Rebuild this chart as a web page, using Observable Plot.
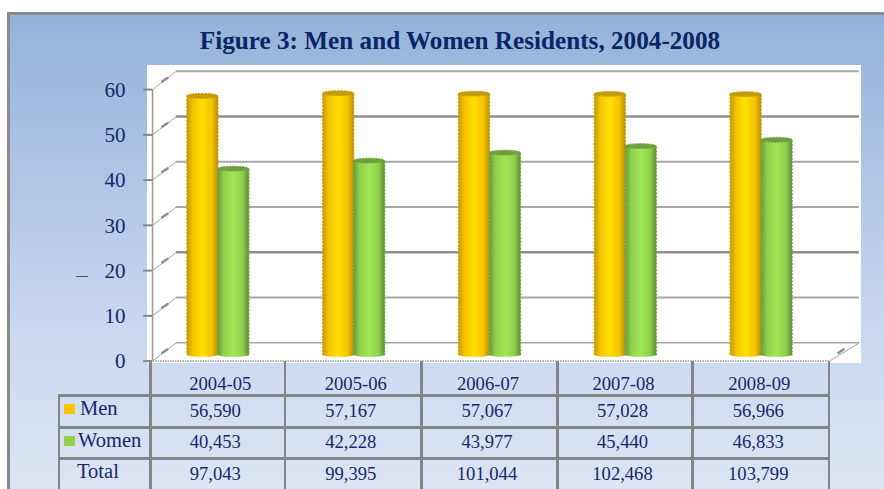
<!DOCTYPE html>
<html><head><meta charset="utf-8">
<script src="https://cdn.jsdelivr.net/npm/d3@7"></script>
<script src="https://cdn.jsdelivr.net/npm/@observablehq/plot@0.6"></script>
<style>
html,body{margin:0;padding:0;width:884px;height:489px;overflow:hidden;background:#fff;font-family:"Liberation Serif",serif;color:#14296b}
#frame{position:absolute;left:7px;top:12px;width:890px;height:500px;border:3px solid #8a8a8a;background:linear-gradient(#94b2d8 0%,#c8d7f0 62%,#e0e7f4 100%)}
#title{position:absolute;left:0;width:920px;top:27px;text-align:center;font:bold 25.2px "Liberation Serif",serif;color:#0a2468;white-space:nowrap}
#white{position:absolute;left:147px;top:65px;width:714px;height:298px;background:#fff}
#chart{position:absolute;left:0;top:0}
#tick{position:absolute;left:76px;top:276px;width:12px;height:1px;background:#456}
.c{position:absolute;text-align:center;font-size:18.6px;line-height:24px;color:#14296b;white-space:nowrap}
.l{font-size:20.5px}
.h{position:absolute;background:#858585}
.sw{position:absolute;width:11px;height:10px}
</style></head><body>
<div id="frame"></div><div id="white"></div><div id="title"></div><div id="tick"></div>
<div id="chart"></div><div id="table"></div>
<script>
const titleText = "Figure 3: Men and Women Residents, 2004-2008";
const years = ["2004-05","2005-06","2006-07","2007-08","2008-09"];
const men = [56590,57167,57067,57028,56966];
const women = [40453,42228,43977,45440,46833];
const total = [97043,99395,101044,102468,103799];
const gridValues = [0,10,20,30,40,50,60];
const strongGrid = [50,20];

document.getElementById("title").textContent = titleText;

const depthX = 0.19, depthY = 4.0;   // pseudo-3D wall depth in data units
const barW = 0.228;
const idx = years.map((_,i)=>i);
const thousand = v => v/1000;

const defs = `<svg width="0" height="0" style="position:absolute"><defs>
<linearGradient id="gm"><stop offset="0" stop-color="#c79a00"/><stop offset=".2" stop-color="#f5c400"/><stop offset=".5" stop-color="#ffdf00"/><stop offset=".8" stop-color="#f5c400"/><stop offset="1" stop-color="#b98f00"/></linearGradient>
<linearGradient id="gw"><stop offset="0" stop-color="#6b9a3c"/><stop offset=".2" stop-color="#8fd14e"/><stop offset=".5" stop-color="#a2e654"/><stop offset=".8" stop-color="#8fd14e"/><stop offset="1" stop-color="#5f8c34"/></linearGradient>
</defs></svg>`;
document.body.insertAdjacentHTML("afterbegin", defs);

const series = (vals, off, lift, fill, cap, edge) => [
  Plot.rectY(idx, {x1:i=>i+0.5+off, x2:i=>i+0.5+off+barW, y1:0.0, y2:i=>thousand(vals[i])+lift, fill:fill, stroke:edge, strokeWidth:1.3, strokeDasharray:"2,1.5"}),
  Plot.rectY(idx, {x1:i=>i+0.5+off, x2:i=>i+0.5+off+barW, y1:-0.5, y2:0.5, fill:fill, rx:15, ry:2}),
  Plot.rectY(idx, {x1:i=>i+0.5+off, x2:i=>i+0.5+off+barW, y1:i=>thousand(vals[i])+lift-0.5, y2:i=>thousand(vals[i])+lift+0.55, fill:cap, stroke:edge, strokeWidth:1, strokeDasharray:"2,1", rx:15, ry:2.5})
];

const chart = Plot.plot({
  width:884, height:489, style:{background:"transparent",overflow:"visible"},
  marginLeft:150, marginRight:55, marginTop:83, marginBottom:134.5,
  x:{domain:[0,5], axis:null},
  y:{domain:[0,60], axis:null},
  marks:[
    // back wall gridlines
    Plot.ruleY(gridValues.filter(v=>v>0), {x1:depthX, x2:5+depthX+0.03, y:v=>v+depthY-1.3, stroke:v=>strongGrid.includes(v)?"#8f8f8f":"#a8a8a8",
      strokeWidth:v=>strongGrid.includes(v)?2.4:2, strokeDasharray:v=>strongGrid.includes(v)?"26,1":"2,1"}),
    Plot.ruleY([0], {x1:depthX, x2:5+depthX+0.03, y:depthY-1.3, stroke:"#a8a8a8", strokeWidth:1.5}),
    // side wall diagonals
    Plot.link(gridValues, {x1:0.015, x2:depthX, y1:v=>v-1.35, y2:v=>v+depthY-1.3, stroke:"#a5a5a5", strokeWidth:1}),
    Plot.link(gridValues, {x1:0.08, x2:0.13, y1:v=>v-1.35+depthY*0.42, y2:v=>v-1.35+depthY*0.67, stroke:"#8d8d8d", strokeWidth:2.5}),
    Plot.link([0], {x1:5, x2:5+depthX+0.03, y1:-1.35, y2:depthY-1.3, stroke:"#a5a5a5", strokeWidth:1}),
    Plot.link([0], {x1:5.06, x2:5.11, y1:0.35, y2:1.4, stroke:"#8d8d8d", strokeWidth:2.5}),
    // floor and vertical axis
    Plot.ruleY([-1.35], {x1:0, x2:5, stroke:"#9a9a9a", strokeWidth:1.5, strokeDasharray:"1.5,1"}),
    Plot.ruleX([0.015], {y1:-1.35, y2:58.65, stroke:"#9a9a9a", strokeWidth:1.5}),
    Plot.ruleY(gridValues, {x1:-0.05, x2:0.015, y:v=>v-1.35, stroke:"#868686", strokeWidth:2}),
    Plot.text(gridValues, {x:-0.185, y:v=>v-1.35, dy:0.5, text:String, textAnchor:"end", fontSize:21, fontFamily:"Liberation Serif", fill:"#14296b"}),
    ...series(men, -barW, 0.55, "url(#gm)", "#c49c00", "#c49c00"),
    ...series(women, 0, 0.6, "url(#gw)", "#6f9f3e", "#6f9f3e")
  ]
});
document.getElementById("chart").append(chart);

// data table below the plot
const colX = [150,284.5,421,557,692,828.5];
const rowY = [361,395.5,427,458.5,489];
const t = document.getElementById("table");
const add = (cls, st, txt) => { const d=document.createElement("div"); d.className=cls; Object.assign(d.style, st); if(txt!=null) d.textContent=txt; t.append(d); };
const fmt = d3.format(",");
const rowShift = [[3,3,-1,-1,-1],[-2,-2,-2,-2,-2],[-2,-2,-2,-2,-2],[-2,-2,-2,-2,-2]];
[[years,null],[men,"Men"],[women,"Women"],[total,"Total"]].forEach(([vals,label],r)=>{
  vals.forEach((v,c)=>add("c",{left:(colX[c]+rowShift[r][c])+"px",width:(colX[c+1]-colX[c])+"px",top:(rowY[r]+(r?3:11))+"px"}, typeof v==="number"?fmt(v):v));
});
add("c l",{left:"80px",top:"396px"},"Men");
add("c l",{left:"78px",top:"428px"},"Women");
add("c l",{left:"77px",top:"459px"},"Total");
add("sw",{left:"64px",top:"404px",background:"#ffc400"});
add("sw",{left:"64px",top:"436px",background:"#92d050"});
rowY.slice(1,4).forEach(y=>add("h",{left:"58px",width:"772px",top:(y-1.5)+"px",height:"3px"}));
colX.forEach((x,i)=>add("h",{left:(x-1)+"px",width:"2.5px",top:"361px",height:"128px"}));
add("h",{left:"57.5px",width:"2.5px",top:"394px",height:"95px"});
</script>
</body></html>
